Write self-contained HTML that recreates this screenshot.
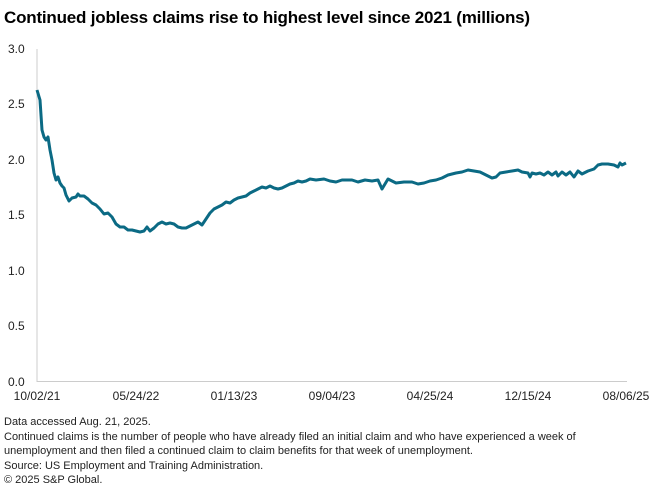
<!DOCTYPE html>
<html><head><meta charset="utf-8"><style>
body{margin:0;width:660px;height:498px;background:#fff;font-family:"Liberation Sans",sans-serif;color:#000;overflow:hidden}
.t{position:absolute;left:4px;top:8px;font-size:17px;font-weight:bold;letter-spacing:-0.2px}
.f{position:absolute;left:4px;font-size:11px;line-height:13.5px;color:#222}
</style></head><body>
<div class="t">Continued jobless claims rise to highest level since 2021 (millions)</div>
<svg width="660" height="498" style="position:absolute;left:0;top:0" font-family="Liberation Sans, sans-serif" font-size="12" fill="#222">
<line x1="37" y1="49" x2="37" y2="382" stroke="#ccc" stroke-width="1"/>
<line x1="37" y1="381.5" x2="627" y2="381.5" stroke="#ccc" stroke-width="1"/>
<g text-anchor="start">
<text x="8" y="53">3.0</text><text x="8" y="108">2.5</text><text x="8" y="164">2.0</text>
<text x="8" y="219">1.5</text><text x="8" y="275">1.0</text><text x="8" y="330">0.5</text><text x="8" y="386">0.0</text>
</g>
<g text-anchor="middle">
<text x="37" y="400">10/02/21</text><text x="136" y="400">05/24/22</text><text x="234" y="400">01/13/23</text>
<text x="332" y="400">09/04/23</text><text x="430" y="400">04/25/24</text><text x="528" y="400">12/15/24</text><text x="626" y="400">08/06/25</text>
</g>
<polyline fill="none" stroke="#0b6a84" stroke-width="3" stroke-linejoin="round" points="37,90 40,100 42,130 44,137 46,140 48,137 50,150 52,160 54,173 56,180 58,177 60,183 62,186 64,188 66,195 69,201 72,198 76,197 78,194 80,196 84,196 88,199 92,203 96,205 100,209 104,214 108,213 112,217 116,224 120,227 124,227 128,230 132,230 136,231 140,232 144,231 147,227 150,231 154,228 158,224 162,222 166,224 170,223 174,224 178,227 182,228 186,228 190,226 194,224 198,222 202,225 206,219 210,213 214,209 218,207 222,205 226,202 230,203 234,200 238,198 242,197 246,196 250,193 254,191 258,189 262,187 266,188 270,186 274,188 278,189 282,188 286,186 290,184 294,183 298,181 302,182 306,181 310,179 316,180 324,179 330,181 336,182 342,180 352,180 358,182 365,180 372,181 378,180 382,189 388,179 396,183 404,182 412,182 418,184 424,183 430,181 436,180 442,178 448,175 456,173 462,172 468,170 474,171 480,172 486,175 492,178 496,177 500,173 506,172 512,171 518,170 522,172 528,173 530,177 532,173 536,174 540,173 544,175 548,172 552,175 556,172 558,176 562,172 566,175 570,172 574,177 578,171 582,174 588,171 594,169 598,165 602,164 608,164 614,165 618,167 620,163 622,165 626,163"/>
</svg>
<div class="f" style="top:416px">Data accessed Aug. 21, 2025.</div>
<div class="f" style="top:431px">Continued claims is the number of people who have already filed an initial claim and who have experienced a week of<br>unemployment and then filed a continued claim to claim benefits for that week of unemployment.</div>
<div class="f" style="top:460px">Source: US Employment and Training Administration.</div>
<div class="f" style="top:474px">© 2025 S&amp;P Global.</div>
</body></html>
